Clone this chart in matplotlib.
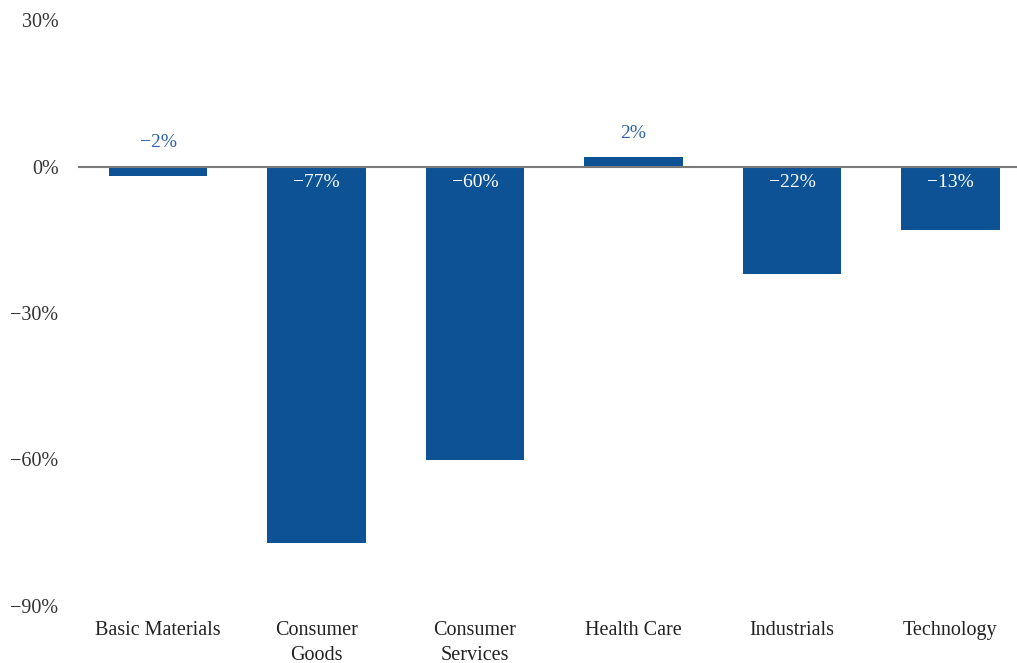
import matplotlib
matplotlib.use("Agg")
import matplotlib.pyplot as plt

sectors = ["Basic Materials", "Consumer\nGoods", "Consumer\nServices",
           "Health Care", "Industrials", "Technology"]
returns = [-2, -77, -60, 2, -22, -13]
y_ticks = [30, 0, -30, -60, -90]

bar_color = "#0D5295"
font = "Liberation Serif"

fig = plt.figure(figsize=(10.17, 6.63), dpi=100)
ax = fig.add_axes([78 / 1017, 57 / 663, 1 - 78 / 1017, (606 - 20) / 663])

x = list(range(len(sectors)))
ax.bar(x, returns, width=0.62, color=bar_color, zorder=2)
ax.axhline(0, color="#7a7a7a", linewidth=1.5, zorder=3)

for xi, v in zip(x, returns):
    if v < -5:
        ax.annotate(f"\u2212{abs(v)}%", (xi, 0), xytext=(0, -11.5), textcoords="offset points",
                    ha="center", va="center", color="white", fontsize=14, family=font)
    else:
        txt = f"\u2212{abs(v)}%" if v < 0 else f"{v}%"
        ax.annotate(txt, (xi, max(v, 0)), xytext=(0, 17), textcoords="offset points",
                    ha="center", va="center", color="#2F62A6", fontsize=14, family=font)

ax.set_xlim(-0.505, 5.42)
ax.set_ylim(-90, 30)
ax.set_yticks(y_ticks)
ax.set_yticklabels([f"\u2212{abs(t)}%" if t < 0 else f"{t}%" for t in y_ticks],
                   family=font, fontsize=14.5, color="#333333")
ax.set_xticks(x)
ax.set_xticklabels(sectors, family=font, fontsize=14.5, color="#222222", linespacing=1.4)
ax.tick_params(axis="both", length=0)
ax.tick_params(axis="y", pad=14)
ax.tick_params(axis="x", pad=11)
for s in ax.spines.values():
    s.set_visible(False)

fig.savefig("out.png", dpi=100)
